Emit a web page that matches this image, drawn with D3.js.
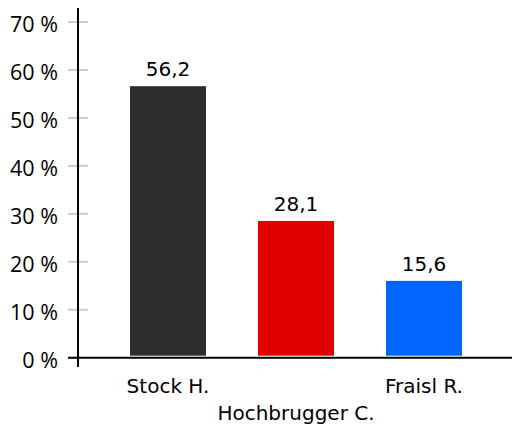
<!DOCTYPE html>
<html>
  <head>
    <title>Stimmenanteile</title>
    <style>
      body { margin: 0; background: #fff; }
    </style>
  </head>
  <body>
    <script src="https://cdn.jsdelivr.net/npm/d3@7"></script>
    <script>
      var w = 512;
      var h = 425;

      // data
      var names = ["Stock H.", "Hochbrugger C.", "Fraisl R."];
      var shares = [56.2, 28.1, 15.6];
      var colors = ["#2d2d2d", "#e00000", "#0066ff"];
      var yTicks = [0, 10, 20, 30, 40, 50, 60, 70];

      var svg = d3.select('body').append('svg').attr('width', w).attr('height', h);

      var x = d3.scaleBand().domain(names).range([104, 488])
        .paddingInner(0.40625).paddingOuter(0.203125);
      var y = d3.scaleLinear().domain([0, 70]).range([357.7, 22]);

      // gray ticks on the left
      svg.selectAll("line.tick").data(yTicks.filter(function(d){ return d > 0; }))
        .enter().append("line")
        .attr("class", "tick")
        .attr("x1", 68).attr("x2", 88)
        .attr("y1", function(d){ return y(d); })
        .attr("y2", function(d){ return y(d); })
        .style("stroke", "#cccccc")
        .style("stroke-width", 2);

      svg.selectAll("text.ylab").data(yTicks)
        .enter().append("text")
        .attr("class", "ylab")
        .attr("x", 58)
        .attr("y", function(d){ return y(d) + 10; })
        .attr("text-anchor", "end")
        .style("font-family", "'Open Sans', sans-serif")
        .style("font-size", "21.5px")
        .style("fill", "#000")
        .text(function(d){ return d + " %"; });

      // bars
      svg.selectAll("rect.bar").data(shares)
        .enter().append("rect")
        .attr("class", "bar")
        .attr("x", function(d, i){ return x(names[i]); })
        .attr("width", x.bandwidth())
        .attr("y", function(d){ return y(d) - 2; })
        .attr("height", function(d){ return y(0) - y(d); })
        .style("fill", function(d, i){ return colors[i]; });

      svg.selectAll("text.val").data(shares)
        .enter().append("text")
        .attr("class", "val")
        .attr("x", function(d, i){ return x(names[i]) + x.bandwidth() / 2; })
        .attr("y", function(d){ return y(d) - 12; })
        .attr("text-anchor", "middle")
        .style("font-family", "'DejaVu Sans', sans-serif")
        .style("font-size", "20px")
        .style("fill", "#000")
        .text(function(d){ return d3.format(".1f")(d).replace(".", ","); });

      // axes
      svg.append("line")
        .attr("x1", 78).attr("x2", 78).attr("y1", 8).attr("y2", 367)
        .style("stroke", "#000").style("stroke-width", 2);
      svg.append("line")
        .attr("x1", 68).attr("x2", w).attr("y1", y(0)).attr("y2", y(0))
        .style("stroke", "#000").style("stroke-width", 2);

      // category labels, alternating rows
      svg.selectAll("text.cat").data(names)
        .enter().append("text")
        .attr("class", "cat")
        .attr("x", function(d){ return x(d) + x.bandwidth() / 2; })
        .attr("y", function(d, i){ return i % 2 ? 420 : 393; })
        .attr("text-anchor", "middle")
        .style("font-family", "'DejaVu Sans', sans-serif")
        .style("font-size", "20px")
        .style("fill", "#000")
        .text(function(d){ return d; });
    </script>
  </body>
</html>
